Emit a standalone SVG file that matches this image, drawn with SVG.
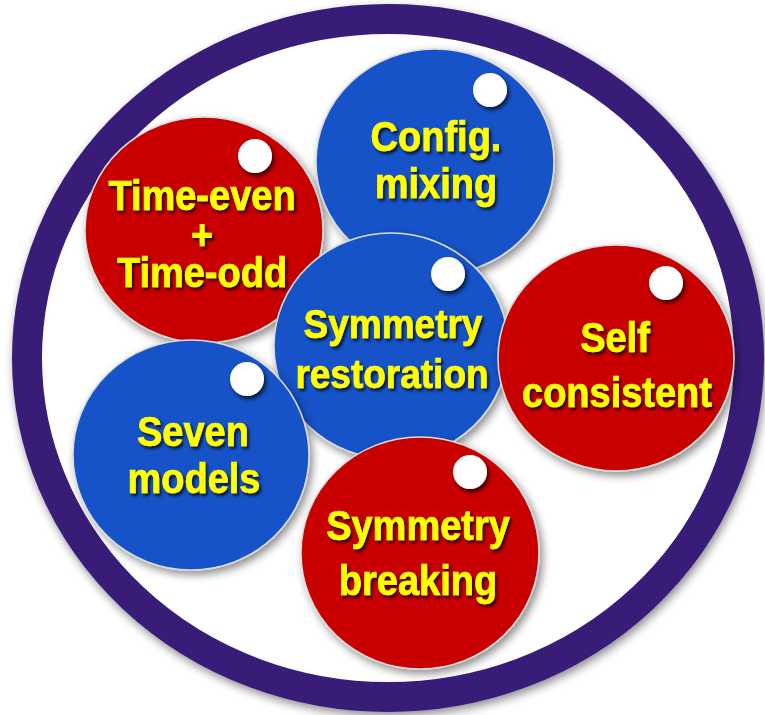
<svg xmlns="http://www.w3.org/2000/svg" width="765" height="715" viewBox="0 0 765 715">
  <defs>
    <filter id="sh" x="-20%" y="-20%" width="140%" height="140%">
      <feDropShadow dx="3" dy="4" stdDeviation="4" flood-color="#000" flood-opacity="0.45"/>
    </filter>
    <filter id="ringsh" x="-10%" y="-10%" width="120%" height="120%">
      <feDropShadow dx="2" dy="4" stdDeviation="5" flood-color="#000" flood-opacity="0.45"/>
    </filter>
    <filter id="dotsh" x="-50%" y="-50%" width="200%" height="200%">
      <feDropShadow dx="2" dy="3" stdDeviation="2" flood-color="#000" flood-opacity="0.75"/>
    </filter>
    <filter id="tsh" x="-10%" y="-30%" width="120%" height="160%">
      <feDropShadow dx="2" dy="2.5" stdDeviation="1.6" flood-color="#000" flood-opacity="0.8"/>
    </filter>
  </defs>
  <style>
    .red { fill: #c80000; stroke: #dcdcdc; stroke-width: 1.5; }
    .blue { fill: #1253c8; stroke: #dcdcdc; stroke-width: 1.5; }
    .dot { fill: #ffffff; }
    .lbl { font-family: "Liberation Sans", Arial, sans-serif; font-weight: bold; font-size: 38px; fill: #ffff00; stroke: #ffff00; stroke-width: 0.6; text-anchor: middle; }
  </style>
  <rect width="765" height="715" fill="#ffffff"/>
  <ellipse id="ring" cx="388" cy="358" rx="361" ry="339" fill="#ffffff" stroke="#371f78" stroke-width="30" filter="url(#ringsh)"/>

  <g id="connectors"></g>

  <g id="time-even">
    <ellipse class="red" cx="204" cy="230" rx="119" ry="113" filter="url(#sh)"/>
    <circle class="dot" cx="255" cy="156" r="17" filter="url(#dotsh)"/>
    <g filter="url(#tsh)">
      <text class="lbl" x="202" y="210" transform="matrix(1,0,0,1.12,0,-25.2)">Time-even</text>
      <text class="lbl" x="202" y="249" transform="matrix(1,0,0,1.12,0,-29.88)">+</text>
      <text class="lbl" x="202" y="287" transform="matrix(1,0,0,1.12,0,-34.44)">Time-odd</text>
    </g>
  </g>

  <g id="config-mixing">
    <ellipse class="blue" cx="435" cy="162" rx="119" ry="113" filter="url(#sh)"/>
    <circle class="dot" cx="490" cy="90" r="17" filter="url(#dotsh)"/>
    <g filter="url(#tsh)">
      <text class="lbl" x="436" y="151" transform="matrix(1,0,0,1.12,0,-18.12)">Config.</text>
      <text class="lbl" x="436" y="198" transform="matrix(1,0,0,1.12,0,-23.76)">mixing</text>
    </g>
  </g>

  <g id="symmetry-restoration">
    <ellipse class="blue" cx="391" cy="346" rx="117" ry="113" filter="url(#sh)"/>
    <circle class="dot" cx="448" cy="274" r="17" filter="url(#dotsh)"/>
    <g filter="url(#tsh)">
      <text class="lbl" x="393" y="338" style="font-size:37px" transform="matrix(1,0,0,1.12,0,-40.56)">Symmetry</text>
      <text class="lbl" x="392" y="388" style="font-size:37px" transform="matrix(1,0,0,1.12,0,-46.56)">restoration</text>
    </g>
  </g>

  <g id="self-consistent">
    <ellipse class="red" cx="616" cy="358" rx="118" ry="113" filter="url(#sh)"/>
    <circle class="dot" cx="666" cy="283" r="17" filter="url(#dotsh)"/>
    <g filter="url(#tsh)">
      <text class="lbl" x="615" y="352" transform="matrix(1,0,0,1.12,0,-42.24)">Self</text>
      <text class="lbl" x="617" y="407" transform="matrix(1,0,0,1.12,0,-48.84)">consistent</text>
    </g>
  </g>

  <g id="seven-models">
    <ellipse class="blue" cx="191" cy="455" rx="118" ry="115" filter="url(#sh)"/>
    <circle class="dot" cx="247" cy="379" r="17" filter="url(#dotsh)"/>
    <g filter="url(#tsh)">
      <text class="lbl" x="193" y="446" transform="matrix(1,0,0,1.12,0,-53.52)">Seven</text>
      <text class="lbl" x="194" y="493" transform="matrix(1,0,0,1.12,0,-59.16)">models</text>
    </g>
  </g>

  <g id="symmetry-breaking">
    <ellipse class="red" cx="420" cy="553" rx="119" ry="116" filter="url(#sh)"/>
    <circle class="dot" cx="470" cy="472" r="17" filter="url(#dotsh)"/>
    <g filter="url(#tsh)">
      <text class="lbl" x="418" y="540" transform="matrix(1,0,0,1.12,0,-64.8)">Symmetry</text>
      <text class="lbl" x="418" y="595" transform="matrix(1,0,0,1.12,0,-71.4)">breaking</text>
    </g>
  </g>
</svg>
